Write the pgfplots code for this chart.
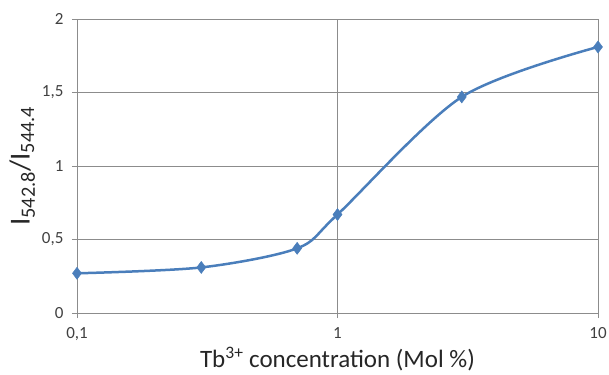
\documentclass[border=0pt]{standalone}
\usepackage{fontspec}
\setmainfont{Carlito}
\usepackage{pgfplots}
\pgfplotsset{compat=1.18}
\definecolor{serblue}{HTML}{4A7EBB}
\definecolor{gridgray}{HTML}{8C8C8C}
\definecolor{txt}{HTML}{404040}
\begin{document}
\begin{tikzpicture}
\path[use as bounding box] (-77pt,-61pt) rectangle (532pt,313pt);
\begin{axis}[
  scale only axis,
  width=521pt, height=294pt,
  xmode=log,
  xmin=0.1, xmax=10, ymin=0, ymax=2,
  xtick={0.1,1,10}, xticklabels={{0,1},1,10},
  ytick={0,0.5,1,1.5,2}, yticklabels={0,{0,5},1,{1,5},2},
  xminorticks=false,
  grid=major,
  major grid style={gridgray, line width=0.8pt},
  axis line style={gridgray, line width=0.8pt},
  tick style={gridgray, line width=0.8pt},
  tick align=outside,
  major tick length=5pt,
  xtick pos=bottom, ytick pos=left,
  ticklabel style={font=\fontsize{17}{19}\selectfont, text=txt},
  xticklabel style={yshift=-6pt},
  yticklabel style={xshift=-5pt},
  xlabel={Tb\textsuperscript{3+} concentration (Mol \%)},
  ylabel={I\textsubscript{542.8}/I\textsubscript{544.4}},
  xlabel style={at={(axis description cs:0.5,-0.187)}, anchor=base, font=\fontsize{25}{27}\selectfont, text=black!85},
  ylabel style={at={(axis description cs:-0.105,0.5)}, anchor=center, font=\fontsize{29}{31}\selectfont, text=black!85},
]
\addplot[serblue, line width=2.5pt, smooth, tension=0.5, mark=diamond*, mark size=6pt, mark options={fill=serblue, draw=serblue, line width=0.5pt}]
coordinates {(0.1,0.27) (0.3,0.31) (0.7,0.44) (1,0.67) (3,1.47) (10,1.81)};
\end{axis}
\end{tikzpicture}
\end{document}
